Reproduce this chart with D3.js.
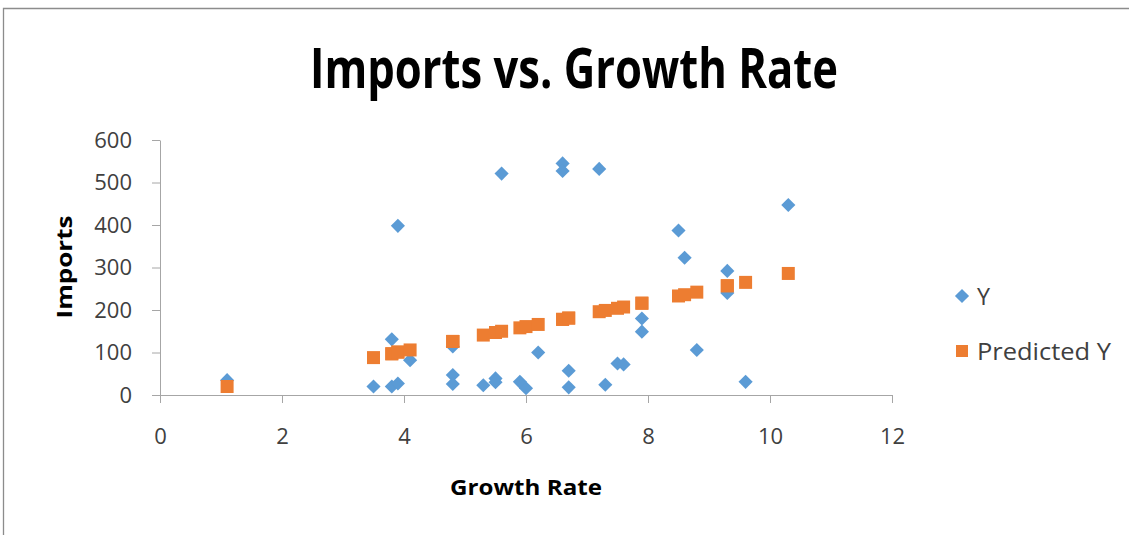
<!DOCTYPE html>
<html>
<head>
<meta charset="utf-8">
<script src="https://cdn.jsdelivr.net/npm/d3@7"></script>
<style>
  html, body { margin: 0; padding: 0; background: #fff; }
  svg { display: block; }
</style>
</head>
<body>
<svg id="chart" width="1129" height="535"></svg>
<script>
// Growth rate observations (x) and the observed imports (Y)
const growthRate = [1.1, 3.5, 3.8, 3.8, 3.9, 3.9, 4.1, 4.8, 4.8, 4.8, 5.3, 5.5, 5.5, 5.6, 5.9, 6.0, 6.2,
                    6.6, 6.6, 6.7, 6.7, 7.2, 7.3, 7.5, 7.6, 7.9, 7.9, 8.5, 8.6, 8.8, 9.3, 9.3, 9.6, 10.3];
const importsY   = [35, 20, 20, 131, 27, 398, 82, 114, 47, 26, 23, 39, 30, 521, 31, 16, 100,
                    545, 527, 57, 18, 532, 24, 74, 72, 180, 149, 387, 323, 106, 292, 240, 31, 447];
// Fitted values from the regression
const predictedY = [20, 88, 97, 97, 101, 101, 106, 126, 126, 126, 141, 147, 147, 150, 158, 161, 166,
                    178, 178, 181, 181, 196, 199, 204, 207, 216, 216, 233, 236, 242, 257, 257, 265, 286];

const xTicks = [0, 2, 4, 6, 8, 10, 12];
const yTicks = [0, 100, 200, 300, 400, 500, 600];
const seriesNames = ["Y", "Predicted Y"];

const BLUE = "#5B9BD5", ORANGE = "#ED7D31", AXIS = "#A6A6A6", TEXT = "#404040";
const FONT = "'Open Sans', 'Noto Sans', sans-serif";

const svg = d3.select("#chart");

// outer chart frame
svg.append("path")
  .attr("d", "M3.5,535 V8.5 H1129")
  .attr("fill", "none").attr("stroke", "#8c8c8c").attr("stroke-width", 1.3);

const x = d3.scaleLinear().domain([0, 12]).range([160, 892]);
const y = d3.scaleLinear().domain([0, 600]).range([395, 140]);

// title
svg.append("text")
  .attr("x", 574).attr("y", 88)
  .attr("text-anchor", "middle")
  .attr("font-family", FONT).attr("font-weight", 700).attr("font-size", 55)
  .attr("textLength", 528).attr("lengthAdjust", "spacingAndGlyphs")
  .attr("fill", "#000")
  .text("Imports vs. Growth Rate");

// x axis
const xAxis = svg.append("g")
  .attr("transform", `translate(0,${y(0)})`)
  .call(d3.axisBottom(x).tickValues(xTicks).tickSize(8).tickPadding(25).tickSizeOuter(0));
xAxis.select(".domain").attr("stroke", AXIS).attr("d", `M${x(0) - 8},0.5H${x(12)}`);
xAxis.selectAll(".tick line").attr("stroke", AXIS);
xAxis.selectAll(".tick text")
  .attr("font-family", FONT).attr("font-size", 22).attr("fill", TEXT);

// y axis
const yAxis = svg.append("g")
  .attr("transform", `translate(${x(0)},0)`)
  .call(d3.axisLeft(y).tickValues(yTicks).tickSize(8).tickPadding(20).tickSizeOuter(0));
yAxis.select(".domain").attr("stroke", AXIS);
yAxis.selectAll(".tick line").attr("stroke", AXIS);
yAxis.selectAll(".tick text")
  .attr("font-family", FONT).attr("font-size", 22).attr("fill", TEXT);

// axis titles
svg.append("text")
  .attr("x", 526).attr("y", 495)
  .attr("text-anchor", "middle")
  .attr("font-family", FONT).attr("font-weight", 700).attr("font-size", 21)
  .attr("textLength", 152).attr("lengthAdjust", "spacingAndGlyphs")
  .attr("fill", "#000")
  .text("Growth Rate");

svg.append("text")
  .attr("transform", "translate(72,267) rotate(-90)")
  .attr("text-anchor", "middle")
  .attr("font-family", FONT).attr("font-weight", 700).attr("font-size", 21)
  .attr("textLength", 103).attr("lengthAdjust", "spacingAndGlyphs")
  .attr("fill", "#000")
  .text("Imports");

// markers
const diamond = d3.symbol().type(d3.symbolSquare).size(100);
const square = d3.symbol().type(d3.symbolSquare).size(169);

const obs = growthRate.map((g, i) => ({ g, v: importsY[i], p: predictedY[i] }));

svg.append("g").selectAll("path")
  .data(obs).join("path")
  .attr("d", diamond)
  .attr("transform", d => `translate(${x(d.g)},${y(d.v)}) rotate(45)`)
  .attr("fill", BLUE);

svg.append("g").selectAll("path")
  .data(obs).join("path")
  .attr("d", square)
  .attr("transform", d => `translate(${x(d.g)},${y(d.p)})`)
  .attr("fill", ORANGE);

// legend
const legend = svg.append("g");
const items = [
  { name: seriesNames[0], color: BLUE, sym: diamond, rot: 45, cy: 296, len: 13 },
  { name: seriesNames[1], color: ORANGE, sym: d3.symbol().type(d3.symbolSquare).size(144), rot: 0, cy: 351, len: 134 }
];
items.forEach(it => {
  legend.append("path")
    .attr("d", it.sym)
    .attr("transform", `translate(962,${it.cy}) rotate(${it.rot})`)
    .attr("fill", it.color);
  legend.append("text")
    .attr("x", 977).attr("y", it.cy + 9)
    .attr("font-family", FONT).attr("font-size", 24)
    .attr("textLength", it.len).attr("lengthAdjust", "spacingAndGlyphs")
    .attr("fill", TEXT)
    .text(it.name);
});
</script>
</body>
</html>
